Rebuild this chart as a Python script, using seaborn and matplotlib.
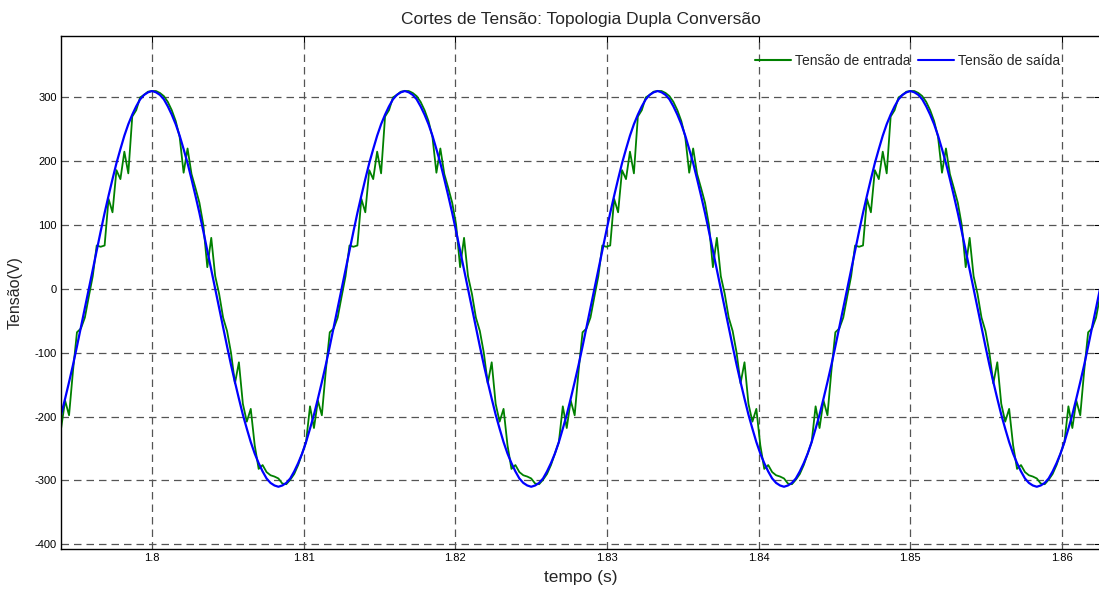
import numpy as np
import pandas as pd
import matplotlib
matplotlib.use("Agg")
import matplotlib.pyplot as plt
import seaborn as sns

# time span of the samples (s), evenly spaced
t_first = 1.79375
t_last = 1.8625

# input voltage (V), one line per half cycle
tensao_entrada = [
    -184, -218, -175, -198, -128, -68, -62, -45, -12, 20, 68, 66, 68, 141, 120, 186,
    172, 215, 181, 270, 280, 300, 304, 309,
    310, 310, 307, 302, 293, 280, 263, 238, 182, 220, 180, 158, 135, 100, 34, 80,
    20, -8, -45, -66, -100, -148, -115, -180, -208, -188, -245, -282, -276, -287, -292, -294,
    -297, -305, -306, -299, -290, -276, -258, -240, -184, -218, -175, -198, -128, -68, -62, -45,
    -12, 20, 68, 66, 68, 141, 120, 186, 172, 215, 181, 270, 280, 300, 304, 309,
    310, 310, 307, 302, 293, 280, 263, 238, 182, 220, 180, 158, 135, 100, 34, 80,
    20, -8, -45, -66, -100, -148, -115, -180, -208, -188, -245, -282, -276, -287, -292, -294,
    -297, -305, -306, -299, -290, -276, -258, -240, -184, -218, -175, -198, -128, -68, -62, -45,
    -12, 20, 68, 66, 68, 141, 120, 186, 172, 215, 181, 270, 280, 300, 304, 309,
    310, 310, 307, 302, 293, 280, 263, 238, 182, 220, 180, 158, 135, 100, 34, 80,
    20, -8, -45, -66, -100, -148, -115, -180, -208, -188, -245, -282, -276, -287, -292, -294,
    -297, -305, -306, -299, -290, -276, -258, -240, -184, -218, -175, -198, -128, -68, -62, -45,
    -12, 20, 68, 66, 68, 141, 120, 186, 172, 215, 181, 270, 280, 300, 304, 309,
    310, 310, 307, 302, 293, 280, 263, 238, 182, 220, 180, 158, 135, 100, 34, 80,
    20, -8, -45, -66, -100, -148, -115, -180, -208, -188, -245, -282, -276, -287, -292, -294,
    -297, -305, -306, -299, -290, -276, -258, -240, -184, -218, -175, -198, -128, -68, -62, -45,
    -12,
]

# output voltage (V)
tensao_saida = [
    -219, -197, -172, -146, -119, -90, -60, -30, 0, 30, 60, 90, 119, 146, 172, 197,
    219, 240, 258, 273, 286, 297, 304, 308,
    310, 308, 304, 297, 286, 273, 258, 240, 219, 197, 172, 146, 119, 90, 60, 30,
    0, -30, -60, -90, -119, -146, -172, -197, -219, -240, -258, -273, -286, -297, -304, -308,
    -310, -308, -304, -297, -286, -273, -258, -240, -219, -197, -172, -146, -119, -90, -60, -30,
    0, 30, 60, 90, 119, 146, 172, 197, 219, 240, 258, 273, 286, 297, 304, 308,
    310, 308, 304, 297, 286, 273, 258, 240, 219, 197, 172, 146, 119, 90, 60, 30,
    0, -30, -60, -90, -119, -146, -172, -197, -219, -240, -258, -273, -286, -297, -304, -308,
    -310, -308, -304, -297, -286, -273, -258, -240, -219, -197, -172, -146, -119, -90, -60, -30,
    0, 30, 60, 90, 119, 146, 172, 197, 219, 240, 258, 273, 286, 297, 304, 308,
    310, 308, 304, 297, 286, 273, 258, 240, 219, 197, 172, 146, 119, 90, 60, 30,
    0, -30, -60, -90, -119, -146, -172, -197, -219, -240, -258, -273, -286, -297, -304, -308,
    -310, -308, -304, -297, -286, -273, -258, -240, -219, -197, -172, -146, -119, -90, -60, -30,
    0, 30, 60, 90, 119, 146, 172, 197, 219, 240, 258, 273, 286, 297, 304, 308,
    310, 308, 304, 297, 286, 273, 258, 240, 219, 197, 172, 146, 119, 90, 60, 30,
    0, -30, -60, -90, -119, -146, -172, -197, -219, -240, -258, -273, -286, -297, -304, -308,
    -310, -308, -304, -297, -286, -273, -258, -240, -219, -197, -172, -146, -119, -90, -60, -30,
    0,
]

series_names = ["Tensão de entrada", "Tensão de saída"]
series_colors = ["#008000", "#0000ff"]
x_ticks = [1.8, 1.81, 1.82, 1.83, 1.84, 1.85, 1.86]
x_ticklabels = ["1.8", "1.81", "1.82", "1.83", "1.84", "1.85", "1.86"]
y_ticks = [-400, -300, -200, -100, 0, 100, 200, 300]

t = np.linspace(t_first, t_last, len(tensao_saida))
df = pd.DataFrame({
    "tempo": np.concatenate([t, t]),
    "tensao": tensao_entrada + tensao_saida,
    "serie": [series_names[0]] * len(tensao_entrada) + [series_names[1]] * len(tensao_saida),
})

sns.set_theme(style="white")
plt.rcParams["font.family"] = ["Liberation Sans", "DejaVu Sans"]
plt.rcParams["axes.unicode_minus"] = False

W, H = 1099, 590
fig = plt.figure(figsize=(W / 100, H / 100), dpi=100)
ax = fig.add_axes([61 / W, 1 - 549.3 / H, (1100 - 61) / W, (549.3 - 35.5) / H])

sns.lineplot(data=df, x="tempo", y="tensao", hue="serie", hue_order=series_names,
             palette=dict(zip(series_names, series_colors)), estimator=None,
             sort=False, ax=ax, linewidth=1.3)
ax.lines[1].set_linewidth(1.6)

ax.set_xlim(1.794, 1.8625)
ax.set_ylim(-408, 397)
ax.set_xticks(x_ticks)
ax.set_xticklabels(x_ticklabels)
ax.set_yticks(y_ticks)
ax.grid(True, color="#555555", linestyle=(0, (6, 4)), linewidth=0.9)
ax.tick_params(direction="in", length=4, width=0.8, top=True, right=True,
               labelsize=8, pad=3, colors="black")
for s in ax.spines.values():
    s.set_color("black")
    s.set_linewidth(1.0)

ax.set_title("Cortes de Tensão: Topologia Dupla Conversão", fontsize=12.5, pad=8)
ax.set_xlabel("tempo (s)", fontsize=12.5, labelpad=5)
ax.set_ylabel("Tensão(V)", fontsize=11.5)
ax.yaxis.set_label_coords(-0.037, 0.5)

handles, labels = ax.get_legend_handles_labels()
leg = ax.legend(handles, labels, ncol=2, frameon=False, loc="center right",
                bbox_to_anchor=(1060 / W, 1 - 60.7 / H), bbox_transform=fig.transFigure,
                fontsize=10, handlelength=2.6, handletextpad=0.3, columnspacing=0.5,
                borderpad=0, borderaxespad=0)
for line in leg.get_lines():
    line.set_linewidth(1.5)

fig.savefig("out.png", dpi=100)
